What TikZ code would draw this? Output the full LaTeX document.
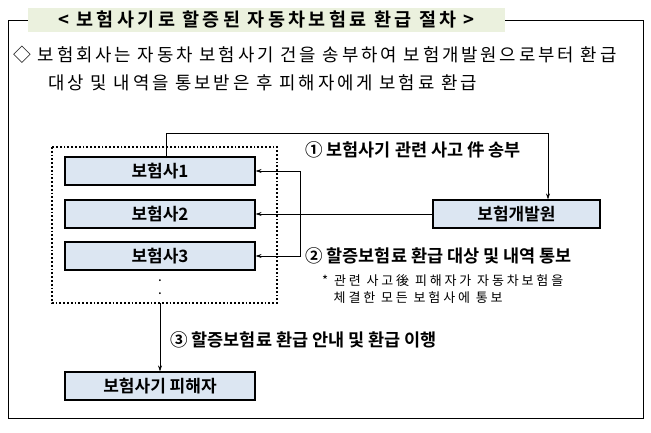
\documentclass[tikz,border=0pt]{standalone}
\usepackage{fontspec}
\setmainfont{Noto Sans CJK KR}
\newfontfamily\kb{Noto Sans CJK KR Bold}
\newfontfamily\kbt[LetterSpace=18]{Noto Sans CJK KR Bold}
\newfontfamily\kls[LetterSpace=16]{Noto Sans CJK KR}
\newfontfamily\knote[LetterSpace=22]{Noto Sans CJK KR}
\usetikzlibrary{arrows.meta}
\definecolor{boxblue}{RGB}{220,230,242}
\definecolor{titlegreen}{RGB}{235,241,222}
\tikzset{
  cobox/.style={draw,line width=1.2pt,fill=boxblue,minimum width=190pt,minimum height=28pt,font=\kb\fontsize{17}{17}\selectfont,inner sep=0pt},
  conn/.style={line width=0.6pt,-{Stealth[length=6pt,width=4pt]}},
  lbl/.style={font=\kb\fontsize{17.5}{17.5}\selectfont,anchor=west,inner sep=0pt}
}
\begin{document}
\begin{tikzpicture}[x=1pt,y=-1pt]
\useasboundingbox (0,0) rectangle (651,432);
\draw[line width=0.6pt] (28,20) -- (8,20) -- (8,418) -- (643,418) -- (643,20) -- (505,20);
\node[fill=titlegreen,minimum width=477pt,minimum height=24pt,inner sep=0pt,font=\kbt\fontsize{18.5}{18.5}\selectfont] (title) at (266.5,20) {<\ 보험사기로 할증된 자동차보험료 환급 절차\ >};
\node[anchor=west,inner sep=0pt,font=\kls\fontsize{17.8}{17.8}\selectfont] (l1) at (13,55) {◇ 보험회사는 자동차 보험사기 건을 송부하여 보험개발원으로부터 환급};
\node[anchor=west,inner sep=0pt,font=\kls\fontsize{17.8}{17.8}\selectfont] (l2) at (48,83) {대상 및 내역을 통보받은 후 피해자에게 보험료 환급};
\draw[line width=1.8pt,dotted] (52,147) rectangle (277,303);
\node[cobox] (b1) at (160,171) {보험사1};
\node[cobox] (b2) at (160,214) {보험사2};
\node[cobox] (b3) at (160,256) {보험사3};
\node[font=\kb] (d1) at (160,281) {.};
\node[font=\kb] (d2) at (160,294) {.};
\node[cobox,minimum width=167pt] (kidi) at (516.5,214) {보험개발원};
\node[cobox] (vic) at (160,386) {보험사기 피해자};
\coordinate (dotb) at (160,303);
\draw[conn] (b1.north -| 166,0) -- (166,133) -- (548,133) -- (kidi.north -| 548,0);
\draw[conn] (kidi.west) -- (b2.east);
\coordinate (br) at (300,214);
\draw[conn] (kidi.west -| br) |- (b1.east);
\draw[conn] (kidi.west -| br) |- (b3.east);
\draw[conn] (dotb) -- (vic.north);
\node[lbl] (t1) at (305,150) {① 보험사기 관련 사고 件 송부};
\node[lbl] (t2) at (305,256) {② 할증보험료 환급 대상 및 내역 통보};
\node[anchor=north west,inner sep=0pt,align=left,font=\knote\fontsize{13}{17}\selectfont] (note) at (322,274) {* 관련 사고後 피해자가 자동차보험을\\\ \ 체결한 모든 보험사에 통보};
\node[lbl] (t3) at (170,340) {③ 할증보험료 환급 안내 및 환급 이행};
\end{tikzpicture}
\end{document}
